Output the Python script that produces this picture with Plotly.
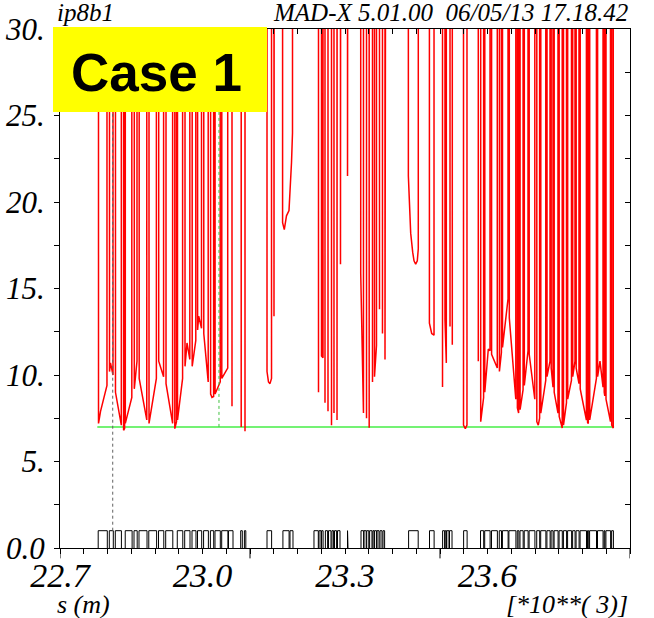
import plotly.graph_objects as go

# n1 aperture along s (s in units of 10**3 m); drifts without aperture give huge n1
OFF = 1.0e3

n1_left_arc = [
    (22.7789, OFF), (22.7811, 7.2), (22.7853, 7.9), (22.7989, 9.4), (22.8000, OFF), (22.8032, OFF),
    (22.8042, 10.2), (22.8063, 10.7), (22.8116, 10.0), (22.8126, OFF), (22.8158, OFF), (22.8168, 9.0),
    (22.8291, 7.1), (22.8297, OFF), (22.8333, OFF), (22.8339, 6.8), (22.8360, 6.9), (22.8364, OFF),
    (22.8371, OFF), (22.8375, 7.2), (22.8512, 8.7), (22.8522, OFF), (22.8554, OFF), (22.8564, 9.2),
    (22.8621, 10.8), (22.8629, OFF), (22.8659, OFF), (22.8667, 9.8), (22.8827, 7.4), (22.8836, OFF),
    (22.8865, OFF), (22.8874, 7.2), (22.9029, 9.8), (22.9038, OFF), (22.9069, OFF), (22.9078, 10.8),
    (22.9181, 9.9), (22.9189, OFF), (22.9221, OFF), (22.9232, 9.5), (22.9371, 7.2), (22.9379, OFF),
    (22.9411, OFF), (22.9417, 6.9), (22.9453, 7.3), (22.9459, OFF), (22.9467, OFF), (22.9474, 7.4),
    (22.9581, 9.8), (22.9589, OFF), (22.9621, OFF), (22.9632, 10.5), (22.9674, 11.85), (22.9733, 10.9),
    (22.9741, OFF), (22.9775, OFF), (22.9783, 10.5), (22.9859, 12.0), (22.9867, OFF), (22.9891, OFF),
    (22.9897, 12.6), (22.9920, 13.4), (22.9979, 12.7), (22.9987, OFF), (23.0019, OFF), (23.0027, 12.4),
    (23.0120, 9.6), (23.0128, OFF), (23.0164, OFF), (23.0171, 8.9), (23.0200, 8.7), (23.0234, 8.75),
    (23.0240, OFF), (23.0259, OFF), (23.0265, 8.9), (23.0373, 9.6), (23.0379, OFF), (23.0400, OFF),
    (23.0406, 9.8), (23.0531, 10.4), (23.0539, OFF), (23.0615, OFF), (23.0621, 8.2), (23.0634, OFF),
    (23.0800, OFF), (23.0815, 7.0), (23.0842, OFF), (23.0878, OFF), (23.0895, 6.75), (23.0916, OFF),
]

n1_ir_left = [
    (23.1352, OFF), (23.1358, 10.2), (23.1389, 9.6), (23.1421, 9.5), (23.1453, 9.8), (23.1459, OFF),
    (23.1501, OFF), (23.1505, 13.4), (23.1512, OFF), (23.1682, OFF), (23.1686, 18.8), (23.1722, 18.4),
    (23.1768, 19.2), (23.1821, 19.5), (23.1874, 22.3), (23.1895, 24.0), (23.1905, OFF),
    (23.2438, OFF), (23.2442, 9.0), (23.2448, OFF), (23.2499, OFF), (23.2505, 11.1), (23.2537, 11.0),
    (23.2543, OFF), (23.2575, OFF), (23.2579, 8.4), (23.2585, OFF), (23.2638, OFF), (23.2642, 7.9),
    (23.2648, OFF), (23.2709, OFF), (23.2716, 7.1), (23.2722, OFF), (23.2764, OFF), (23.2768, 7.8),
    (23.2775, OFF), (23.2827, OFF), (23.2832, 7.4), (23.2838, OFF), (23.2901, OFF), (23.2905, 16.4),
    (23.2912, OFF), (23.3048, OFF), (23.3053, 21.5), (23.3059, OFF),
]

n1_ir_right = [
    (23.3326, OFF), (23.3331, 15.9), (23.3389, 7.8), (23.3396, OFF), (23.3448, OFF), (23.3453, 7.5),
    (23.3459, OFF), (23.3503, OFF), (23.3509, 6.95), (23.3516, OFF), (23.3573, OFF), (23.3579, 9.6),
    (23.3585, OFF), (23.3615, OFF), (23.3621, 9.9), (23.3663, 11.7), (23.3669, OFF), (23.3720, OFF),
    (23.3726, 13.8), (23.3733, OFF), (23.3783, OFF), (23.3789, 12.4), (23.3796, OFF), (23.3836, OFF),
    (23.3842, 10.9), (23.3848, OFF),
    (23.4331, OFF), (23.4334, 21.5), (23.4353, 20.1), (23.4383, 18.2), (23.4425, 17.1), (23.4453, 16.6),
    (23.4488, 16.4), (23.4522, 16.6), (23.4543, 17.3), (23.4549, OFF), (23.4773, OFF), (23.4777, 13.0),
    (23.4825, 12.4), (23.4874, 12.3), (23.4880, OFF), (23.5046, OFF), (23.5053, 9.3), (23.5059, OFF),
    (23.5101, OFF), (23.5105, 13.2), (23.5133, 10.7), (23.5139, OFF), (23.5192, OFF), (23.5196, 13.6),
    (23.5211, 12.8), (23.5217, OFF), (23.5253, OFF), (23.5259, 11.75), (23.5265, OFF),
    (23.5491, OFF), (23.5495, 7.1), (23.5533, 6.9), (23.5568, 7.1), (23.5575, OFF),
]

n1_right_arc = [
    (23.5800, OFF), (23.5806, 10.8), (23.5813, OFF), (23.5848, OFF), (23.5857, 7.3), (23.5918, 8.7),
    (23.5924, OFF), (23.5937, OFF), (23.5943, 9.0), (23.6017, 11.5), (23.6053, 11.4), (23.6059, OFF),
    (23.6080, OFF), (23.6086, 11.2), (23.6206, 10.4), (23.6213, OFF), (23.6244, OFF), (23.6251, 10.2),
    (23.6293, 11.3), (23.6299, OFF), (23.6309, OFF), (23.6316, 11.6), (23.6432, 14.4), (23.6438, OFF),
    (23.6451, OFF), (23.6459, 13.3), (23.6543, 10.1), (23.6596, 8.6), (23.6602, OFF), (23.6623, OFF),
    (23.6629, 8.1), (23.6655, 7.8), (23.6663, OFF), (23.6680, OFF), (23.6686, 8.0), (23.6749, 9.15),
    (23.6756, OFF), (23.6768, OFF), (23.6775, 9.4), (23.6853, 11.4), (23.6859, OFF), (23.6872, OFF),
    (23.6878, 11.2), (23.6996, 8.6), (23.7002, OFF), (23.7032, OFF), (23.7038, 7.3), (23.7069, 7.1),
    (23.7097, 7.5), (23.7103, OFF), (23.7116, OFF), (23.7122, 7.8), (23.7227, 9.7), (23.7234, OFF),
    (23.7246, OFF), (23.7253, 9.9), (23.7316, 10.8), (23.7322, OFF), (23.7335, OFF), (23.7341, 10.4),
    (23.7379, 9.3), (23.7385, OFF), (23.7398, OFF), (23.7404, 9.0), (23.7484, 7.8), (23.7491, OFF),
    (23.7503, OFF), (23.7509, 7.6), (23.7573, 6.93), (23.7579, OFF), (23.7594, OFF), (23.7600, 7.1),
    (23.7663, 8.4), (23.7669, OFF), (23.7682, OFF), (23.7688, 8.6), (23.7768, 9.7), (23.7775, OFF),
    (23.7787, OFF), (23.7794, 9.9), (23.7842, 10.8), (23.7848, OFF), (23.7861, OFF), (23.7867, 10.4),
    (23.7926, 9.5), (23.7933, OFF), (23.7945, OFF), (23.7952, 9.2), (23.8082, 7.4), (23.8088, OFF),
    (23.8101, OFF), (23.8107, 7.25), (23.8122, 7.2), (23.8133, OFF), (23.8145, OFF), (23.8152, 7.4),
    (23.8293, 9.8), (23.8299, OFF), (23.8312, OFF), (23.8318, 9.9), (23.8368, 10.8), (23.8432, 9.3),
    (23.8438, OFF), (23.8451, OFF), (23.8457, 9.0), (23.8469, 8.8), (23.8476, OFF), (23.8488, OFF),
    (23.8495, 8.6), (23.8589, 7.3), (23.8596, OFF), (23.8608, OFF), (23.8615, 7.1), (23.8648, 6.93),
    (23.8655, OFF),
]

# element layout drawn at the foot of the plot (start, end in 10**3 m)
elem_s0 = [
    22.7804, 22.8038, 22.8164, 22.8373, 22.8558, 22.8663, 22.8869, 22.9074, 22.9225, 22.9469,
    22.9625, 22.9779, 22.9895, 23.0023, 23.0166, 23.0263, 23.0404, 23.0547, 23.0804, 23.0882,
    23.1358, 23.1693, 23.1842,
    23.2347, 23.2453, 23.2507, 23.2587, 23.2653, 23.2726, 23.2779, 23.2842, 23.3053,
    23.3337, 23.3400, 23.3457, 23.3518, 23.3587, 23.3623, 23.3674, 23.3737, 23.3800,
    23.4339, 23.4779, 23.5055, 23.5109, 23.5143, 23.5200, 23.5497,
    23.5853, 23.5941, 23.6084, 23.6248, 23.6314, 23.6451, 23.6627, 23.6684, 23.6773, 23.6876,
    23.7036, 23.7120, 23.7251, 23.7339, 23.7402, 23.7507, 23.7598, 23.7686, 23.7792, 23.7865,
    23.7949, 23.8105, 23.8149, 23.8316, 23.8455, 23.8493, 23.8613,
]
elem_s1 = [
    22.7996, 22.8122, 22.8293, 22.8518, 22.8625, 22.8832, 22.9034, 22.9185, 22.9375, 22.9585,
    22.9737, 22.9863, 22.9983, 23.0124, 23.0236, 23.0375, 23.0535, 23.0642, 23.0838, 23.0912,
    23.1455, 23.1823, 23.1905,
    23.2438, 23.2495, 23.2539, 23.2634, 23.2705, 23.2760, 23.2823, 23.2895, 23.3063,
    23.3392, 23.3446, 23.3501, 23.3568, 23.3613, 23.3665, 23.3716, 23.3779, 23.3834,
    23.4541, 23.4876, 23.5097, 23.5135, 23.5189, 23.5253, 23.5571,
    23.5920, 23.6055, 23.6208, 23.6295, 23.6434, 23.6598, 23.6661, 23.6751, 23.6855, 23.6998,
    23.7099, 23.7229, 23.7318, 23.7381, 23.7486, 23.7575, 23.7665, 23.7771, 23.7844, 23.7928,
    23.8084, 23.8131, 23.8295, 23.8433, 23.8472, 23.8592, 23.8651,
]
ELEM_HEIGHT = 1.0

# reference aperture level and two auxiliary curves leaving the frame
n1_ref_s = [22.7785, 23.8665]
n1_ref = [7.0, 7.0]
aux1_s = [22.8110, 22.8110]
aux1_v = [1.0, OFF]
aux2_s = [23.0347, 23.0347]
aux2_v = [7.0, OFF]

x_ticks = [22.7, 23.0, 23.3, 23.6, 23.9]
x_ticktext = ["22.7", "23.0", "23.3", "23.6", "23.9"]
x_long_ticks = [22.7, 23.1, 23.5, 23.9]
y_ticks = [0, 5, 10, 15, 20, 25, 30]
y_ticktext = ["0.0", "5.", "10.", "15.", "20.", "25.", "30."]

red_pts = n1_left_arc + n1_ir_left + n1_ir_right + n1_right_arc
red_s = [p[0] for p in red_pts]
red_v = [p[1] for p in red_pts]

box_x, box_y = [], []
for a, b in zip(elem_s0, elem_s1):
    box_x += [a, a, b, b, None]
    box_y += [0, ELEM_HEIGHT, ELEM_HEIGHT, 0, None]

SERIF = "Liberation Serif, Times New Roman, serif"

fig = go.Figure()
fig.add_trace(go.Scatter(x=box_x, y=box_y, mode="lines",
                         line=dict(color="black", width=1), hoverinfo="skip"))
fig.add_trace(go.Scatter(x=n1_ref_s, y=n1_ref, mode="lines",
                         line=dict(color="#74f274", width=2), hoverinfo="skip"))
fig.add_trace(go.Scatter(x=red_s, y=red_v, mode="lines",
                         line=dict(color="#ff0000", width=1.5), hoverinfo="skip"))
fig.add_trace(go.Scatter(x=aux1_s, y=aux1_v, mode="lines",
                         line=dict(color="#606060", width=1, dash="dot"), hoverinfo="skip"))
fig.add_trace(go.Scatter(x=aux2_s, y=aux2_v, mode="lines",
                         line=dict(color="#40c040", width=1, dash="dot"), hoverinfo="skip"))
# carrier for the mirrored top/right axes
fig.add_trace(go.Scatter(x=[None], y=[None], xaxis="x2", yaxis="y2", showlegend=False,
                         hoverinfo="skip"))

xtickfont = dict(family=SERIF, size=34, color="black", style="italic")
ytickfont = dict(family=SERIF, size=31, color="black", style="italic")
common = dict(showgrid=False, zeroline=False, showline=True, linecolor="black", linewidth=1,
              tickcolor="black", ticklen=5, tickwidth=1, automargin=False)

fig.update_layout(
    width=654, height=618,
    margin=dict(l=60, r=24, t=29, b=70),
    paper_bgcolor="white", plot_bgcolor="white",
    showlegend=False,
    xaxis=dict(range=[22.7, 23.9], tickvals=x_ticks, ticktext=x_ticktext, ticks="outside",
               tickfont=xtickfont, ticklabelstandoff=-8,
               minor=dict(dtick=0.05, tick0=22.7, ticks="outside", ticklen=5, tickcolor="black"),
               **common),
    xaxis2=dict(range=[22.7, 23.9], overlaying="x", side="top", anchor="y", tickvals=x_ticks,
                ticks="inside", showticklabels=False,
                minor=dict(dtick=0.05, tick0=22.7, ticks="inside", ticklen=5, tickcolor="black"),
                **common),
    yaxis=dict(range=[0, 30], tickvals=y_ticks, ticktext=y_ticktext, ticks="outside",
               tickfont=ytickfont, ticklabelstandoff=3,
               minor=dict(dtick=2.5, tick0=0, ticks="outside", ticklen=5, tickcolor="black"),
               **common),
    yaxis2=dict(range=[0, 30], overlaying="y", side="right", anchor="x", tickvals=y_ticks,
                ticks="inside", showticklabels=False,
                minor=dict(dtick=2.5, tick0=0, ticks="inside", ticklen=5, tickcolor="black"),
                **common),
)

for xv in x_long_ticks:
    fig.add_shape(type="line", xref="x", yref="paper", x0=xv, x1=xv, y0=0, y1=-0.02,
                  line=dict(color="black", width=1))

# "Case 1" label box
fig.add_shape(type="rect", xref="paper", yref="paper", x0=-0.0123, x1=0.3632, y0=0.840, y1=1.004,
              fillcolor="#ffff00", line=dict(width=0), layer="above")

labfont = dict(family=SERIF, size=25, color="black", style="italic")
fig.add_annotation(text="ip8b1", xref="paper", yref="paper", x=-0.0088, y=1.031,
                   xanchor="left", yanchor="middle", showarrow=False, font=labfont)
fig.add_annotation(text="MAD-X 5.01.00\u00a0\u00a006/05/13 17.18.42", xref="paper", yref="paper",
                   x=1.0, y=1.031, xanchor="right", yanchor="middle", showarrow=False, font=labfont)
fig.add_annotation(text="s (m)", xref="paper", yref="paper", x=-0.0088, y=-0.108,
                   xanchor="left", yanchor="middle", showarrow=False,
                   font=dict(family=SERIF, size=26, color="black", style="italic"))
fig.add_annotation(text="[*10**(\u00a03)]", xref="paper", yref="paper", x=1.0, y=-0.108,
                   xanchor="right", yanchor="middle", showarrow=False,
                   font=dict(family=SERIF, size=26, color="black", style="italic"))
fig.add_annotation(text="<b>Case 1</b>", xref="paper", yref="paper", x=0.170, y=0.917,
                   xanchor="center", yanchor="middle", showarrow=False,
                   font=dict(family="Liberation Sans, Arial", size=53, color="black"))

fig.write_html("out.html")
